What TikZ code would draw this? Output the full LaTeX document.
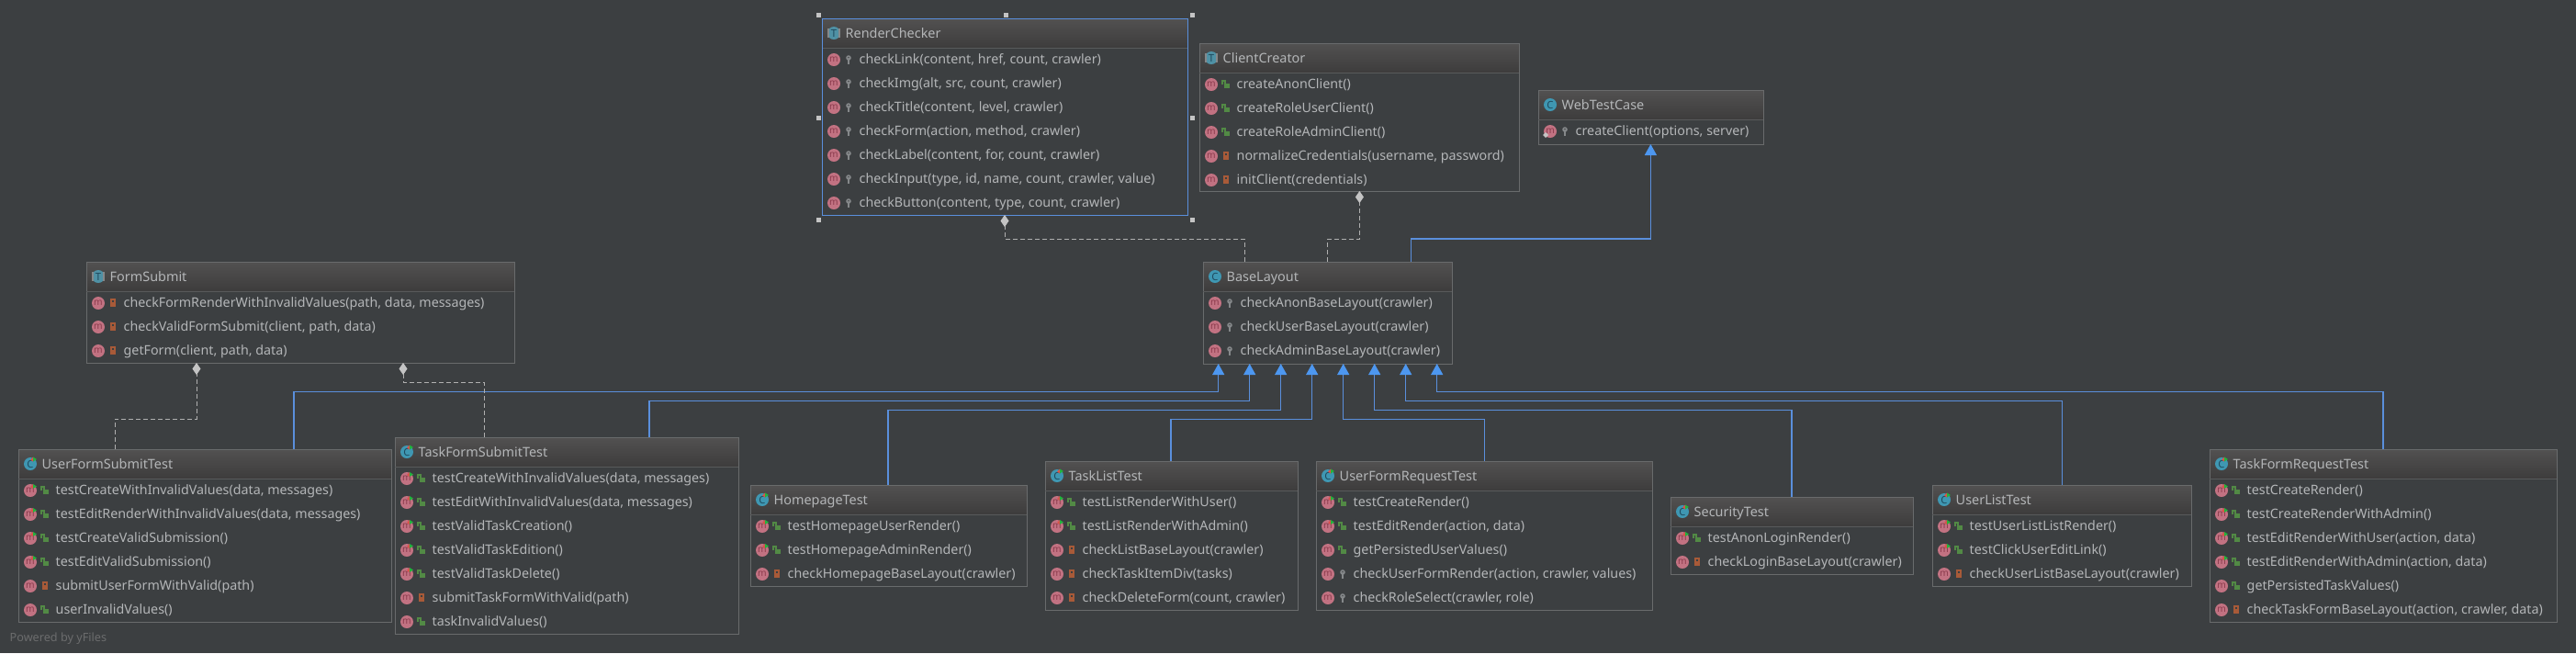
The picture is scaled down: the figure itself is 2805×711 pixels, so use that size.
\documentclass[tikz,border=0pt]{standalone}
\usepackage{fontspec}
\setmainfont{Noto Sans}
\usetikzlibrary{arrows.meta}

\definecolor{bgdark}{HTML}{3C3F41}
\definecolor{boxline}{HTML}{696B6C}
\definecolor{headtop}{HTML}{525151}
\definecolor{headbot}{HTML}{3D3C3C}
\definecolor{headline}{HTML}{585A5B}
\definecolor{textgray}{HTML}{B4B6B8}
\definecolor{inheritblue}{HTML}{5A8FDC}
\definecolor{tipblue}{HTML}{4D97F0}
\definecolor{usegray}{HTML}{C4C4C4}
\definecolor{methpink}{HTML}{C27282}
\definecolor{methletter}{HTML}{8C3B4D}
\definecolor{classblue}{HTML}{3F97B2}
\definecolor{classletter}{HTML}{1F4A5E}
\definecolor{lockorange}{HTML}{A85A38}
\definecolor{lockgreen}{HTML}{528A45}
\definecolor{keygray}{HTML}{85888A}
\definecolor{runred}{HTML}{D9534B}
\definecolor{rungreen}{HTML}{23B23C}

\tikzset{
  classnode/.style = {draw=boxline, line width=.01cm, rectangle, anchor=north west, inner sep=0pt, outer sep=0pt},
  rowtext/.style = {anchor=base west, inner sep=0pt, text=textgray, font=\fontsize{4.06}{5}\selectfont},
  titletext/.style = {anchor=base west, inner sep=0pt, text=textgray, font=\fontsize{4.1}{5}\selectfont},
  inherits/.style = {draw=inheritblue, line width=.012cm, -{Triangle[length=.12cm, width=.13cm, color=tipblue]}},
  uses/.style = {draw=usegray!85!bgdark, line width=.009cm, dash pattern=on .05cm off .03cm, -{Diamond[length=.13cm, width=.09cm, color=usegray]}},
  handle/.style = {fill=usegray},
  methicon/.pic = {
    \fill[methpink] (0,0) circle (7);
    \node[inner sep=0pt, text=methletter, font=\fontsize{2.9}{3}\selectfont] (mletter) at (0,-.5) {m};
  },
  vispri/.pic = {
    \fill[lockorange] (-3,-1) rectangle (3,4);
    \draw[lockorange, line width=.012cm] (-2,-1) -- (-2,-4) -- (2,-4) -- (2,-1);
  },
  vispub/.pic = {
    \fill[lockgreen] (-2,-1) rectangle (4,4);
    \draw[lockgreen, line width=.012cm] (-4,0) -- (-4,-4) -- (-1,-4) -- (-1,-1);
  },
  vispro/.pic = {
    \fill[keygray] (0,-2) circle (2.8);
    \fill[keygray] (-.9,-1) rectangle (.9,5);
    \fill[bgdark] (0,-2.4) circle (.8);
  },
  runbadge/.pic = {
    \fill[runred] (0,-4) -- (0,1) -- (-3,-1) -- cycle;
    \fill[rungreen] (0,-4) -- (4,-1.5) -- (0,1) -- cycle;
  },
  vistst/.pic = {
    \pic at (0,0) {vispub};
    \pic at (-13,-3) {runbadge};
  },
  iconC/.pic = {
    \fill[classblue] (0,0) circle (7);
    \node[inner sep=0pt, text=classletter, font=\fontsize{3.2}{3}\selectfont] (cletter) at (0,0) {C};
  },
  iconT/.pic = {
    \fill[classblue!75!gray] (0,0) circle (7);
    \fill[keygray] (-7,-5) rectangle (-5,5);
    \fill[keygray] (5,-5) rectangle (7,5);
    \node[inner sep=0pt, text=classletter, font=\fontsize{3.2}{3}\selectfont] (tletter) at (0,0) {T};
  },
  iconG/.pic = {
    \pic at (0,0) {iconC};
    \pic at (3,-3.5) {runbadge};
  }
}

\newcommand{\classbox}[7]{%
  \shade[top color=headtop, bottom color=headbot] (#1,#2) rectangle (#3,#2+32);
  \node[classnode, minimum width={(#3-#1)*0.01cm}, minimum height={(#4-#2)*0.01cm}] (#6) at (#1,#2) {};
  \draw[headline, line width=.01cm] (#1,#2+32) -- (#3,#2+32);
  \pic at (#1+13,#2+16) {#5};
  \node[titletext] (#6-title) at (#1+25,#2+21) {#6};
  \foreach \vis/\txt [count=\r] in {#7} {
    \pic at (#1+13,{#2+19+26*\r}) {methicon};
    \pic at (#1+29,{#2+19+26*\r}) {\vis};
    \node[rowtext] (#6-\r) at (#1+40,{#2+23.5+26*\r}) {\txt};
  }
}

\begin{document}
\begin{tikzpicture}[x=0.01cm, y=-0.01cm]
  \fill[bgdark] (0,0) rectangle (2805,711);
  \useasboundingbox (0,0) rectangle (2805,711);

  \classbox{895}{20}{1293}{234}{iconT}{RenderChecker}{
    vispro/{checkLink(content, href, count, crawler)},
    vispro/{checkImg(alt, src, count, crawler)},
    vispro/{checkTitle(content, level, crawler)},
    vispro/{checkForm(action, method, crawler)},
    vispro/{checkLabel(content, for, count, crawler)},
    vispro/{checkInput(type, id, name, count, crawler, value)},
    vispro/{checkButton(content, type, count, crawler)}}
  \classbox{1306}{47}{1654}{208}{iconT}{ClientCreator}{
    vispub/{createAnonClient()},
    vispub/{createRoleUserClient()},
    vispub/{createRoleAdminClient()},
    vispri/{normalizeCredentials(username, password)},
    vispri/{initClient(credentials)}}
  \classbox{1675}{98}{1920}{157}{iconC}{WebTestCase}{
    vispro/{createClient(options, server)}}
  \classbox{1310}{285}{1581}{396}{iconC}{BaseLayout}{
    vispro/{checkAnonBaseLayout(crawler)},
    vispro/{checkUserBaseLayout(crawler)},
    vispro/{checkAdminBaseLayout(crawler)}}
  \classbox{94}{285}{560}{395}{iconT}{FormSubmit}{
    vispri/{checkFormRenderWithInvalidValues(path, data, messages)},
    vispri/{checkValidFormSubmit(client, path, data)},
    vispri/{getForm(client, path, data)}}
  \classbox{20}{489}{426}{677}{iconG}{UserFormSubmitTest}{
    vistst/{testCreateWithInvalidValues(data, messages)},
    vistst/{testEditRenderWithInvalidValues(data, messages)},
    vistst/{testCreateValidSubmission()},
    vistst/{testEditValidSubmission()},
    vispri/{submitUserFormWithValid(path)},
    vispub/{userInvalidValues()}}
  \classbox{430}{476}{804}{690}{iconG}{TaskFormSubmitTest}{
    vistst/{testCreateWithInvalidValues(data, messages)},
    vistst/{testEditWithInvalidValues(data, messages)},
    vistst/{testValidTaskCreation()},
    vistst/{testValidTaskEdition()},
    vistst/{testValidTaskDelete()},
    vispri/{submitTaskFormWithValid(path)},
    vispub/{taskInvalidValues()}}
  \classbox{817}{528}{1118}{638}{iconG}{HomepageTest}{
    vistst/{testHomepageUserRender()},
    vistst/{testHomepageAdminRender()},
    vispri/{checkHomepageBaseLayout(crawler)}}
  \classbox{1138}{502}{1413}{664}{iconG}{TaskListTest}{
    vistst/{testListRenderWithUser()},
    vistst/{testListRenderWithAdmin()},
    vispri/{checkListBaseLayout(crawler)},
    vispri/{checkTaskItemDiv(tasks)},
    vispri/{checkDeleteForm(count, crawler)}}
  \classbox{1433}{502}{1799}{664}{iconG}{UserFormRequestTest}{
    vistst/{testCreateRender()},
    vistst/{testEditRender(action, data)},
    vispub/{getPersistedUserValues()},
    vispro/{checkUserFormRender(action, crawler, values)},
    vispro/{checkRoleSelect(crawler, role)}}
  \classbox{1819}{541}{2083}{625}{iconG}{SecurityTest}{
    vistst/{testAnonLoginRender()},
    vispri/{checkLoginBaseLayout(crawler)}}
  \classbox{2104}{528}{2386}{638}{iconG}{UserListTest}{
    vistst/{testUserListListRender()},
    vistst/{testClickUserEditLink()},
    vispri/{checkUserListBaseLayout(crawler)}}
  \classbox{2406}{489}{2784}{677}{iconG}{TaskFormRequestTest}{
    vistst/{testCreateRender()},
    vistst/{testCreateRenderWithAdmin()},
    vistst/{testEditRenderWithUser(action, data)},
    vistst/{testEditRenderWithAdmin(action, data)},
    vispub/{getPersistedTaskValues()},
    vispri/{checkTaskFormBaseLayout(action, crawler, data)}}

  \draw[inheritblue, line width=.01cm] (RenderChecker.north west) rectangle (RenderChecker.south east);
  \foreach \hx/\hy in {891/16, 1095/16, 1298/16, 891/128, 1298/128, 891/239, 1298/239}
    \fill[handle] (\hx-2.5,\hy-2.5) rectangle +(5,5);
  \fill[usegray] (1683,144) -- (1686,147) -- (1683,150) -- (1680,147) -- cycle;

  \foreach \nm/\from/\slot/\lvl in {
      UserFormSubmitTest/320/1326.7/426.7, TaskFormSubmitTest/707/1360.7/436.7,
      HomepageTest/967/1394.7/446.7, TaskListTest/1275/1428.7/456.7,
      UserFormRequestTest/1616.7/1462.7/456.7, SecurityTest/1951/1496.7/446.7,
      UserListTest/2245.7/1530.7/436.7, TaskFormRequestTest/2595/1564.7/426.7}
    \draw[inherits] (\from,0 |- \nm.north) |- (\slot,\lvl) -- (\slot,0 |- BaseLayout.south);
  \draw[inherits] (1536.7,0 |- BaseLayout.north) |- (1797.4,260) -- (1797.4,0 |- WebTestCase.south);

  \draw[uses] (1355.4,0 |- BaseLayout.north) |- (1094,260) -- (1094,0 |- RenderChecker.south);
  \draw[uses] (1445.6,0 |- BaseLayout.north) |- (1480.4,260) -- (1480.4,0 |- ClientCreator.south);
  \draw[uses] (125.4,0 |- UserFormSubmitTest.north) |- (214,456) -- (214,0 |- FormSubmit.south);
  \draw[uses] (527,0 |- TaskFormSubmitTest.north) |- (439,416) -- (439,0 |- FormSubmit.south);

  \node[anchor=base west, inner sep=0pt, text=gray!70!bgdark, font=\fontsize{3.6}{5}\selectfont] (poweredby) at (10,698) {Powered by yFiles};
\end{tikzpicture}
\end{document}
